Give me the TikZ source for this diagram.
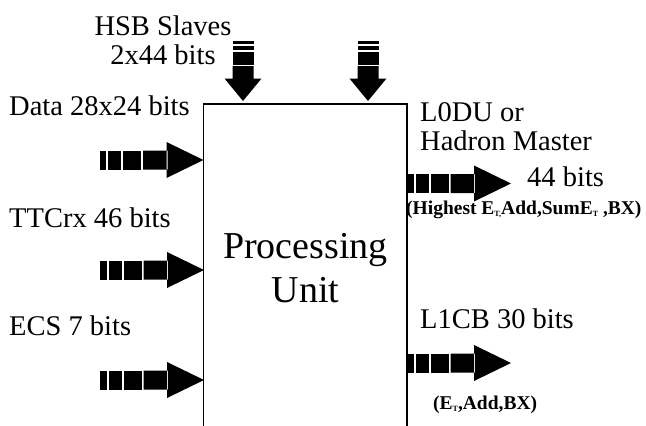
\documentclass[tikz,border=0pt]{standalone}
\usepackage{fontspec}
\setmainfont{Liberation Serif}
\usetikzlibrary{positioning}

\newcommand{\lblfont}{\fontsize{28.5}{29}\selectfont}
\newcommand{\sub}[1]{\raisebox{-0.3ex}{\fontsize{8}{8}\selectfont #1}}

\begin{document}
\begin{tikzpicture}[
    x=1pt, y=-1pt,
    sig/.style={inner sep=0, font=\lblfont, anchor=base west},
    note/.style={inner sep=0, font=\bfseries\fontsize{19.5}{20}\selectfont, anchor=base west},
    unitline/.style={line width=1.3pt},
    % striped bus arrow pointing right, origin at its tail
    pics/busright/.style={code={
        \fill (0,-9.5) rectangle (6.5,9.5);
        \fill (8.5,-9.5) rectangle (21.5,9.5);
        \fill (23.5,-9.5) rectangle (41.5,9.5);
        \fill (43.5,-9.5) rectangle (68,9.5) (67,-18) -- (104,0) -- (67,18) -- cycle;
    }},
    % striped bus arrow pointing down, origin at its tail
    pics/busdown/.style={code={
        \fill (-10.5,0) rectangle (10.5,3);
        \fill (-10.5,4.5) rectangle (10.5,9);
        \fill (-10.5,10.5) rectangle (10.5,23.5);
        \fill (-10.5,25) rectangle (10.5,38) (-18.5,37.5) -- (0,60) -- (18.5,37.5) -- cycle;
    }}
]
    \useasboundingbox (0,0) rectangle (646,426);

    % the unit, open at the bottom (base = last line)
    \draw[unitline] (203.5,426) |- (407,104) -- (407,426);
    \node[inner sep=0, anchor=base, align=center,
          font=\fontsize{38}{44}\selectfont] (pu) at (305.5,302) {Processing\\Unit};

    % inputs
    \node[sig, anchor=base, align=center] (hsb) at (163,64) {HSB Slaves\\2x44 bits};
    \node[sig] (data) at (9,115) {Data 28x24 bits};
    \node[sig] (ttc) at (9,227) {TTCrx 46 bits};
    \node[sig] (ecs) at (9,335) {ECS 7 bits};

    \coordinate (hsba) at (243,41);
    \coordinate (hsbb) at (368,41);
    \coordinate (datain) at (99.5,160);
    \coordinate (ttcin) at (100,270);
    \coordinate (ecsin) at (100,380);
    \pic at (hsba) {busdown};
    \pic at (hsbb) {busdown};
    \pic at (datain) {busright};
    \pic at (ttcin) {busright};
    \pic at (ecsin) {busright};

    % outputs
    \node[sig, align=left] (l0du) at (420,150) {L0DU or\\Hadron Master};
    \coordinate (l0duout) at (407,183.5);
    \pic at (l0duout) {busright};
    \node[sig] (l0dubits) at (527,186) {44 bits};
    \node[note] (l0ducont) at (406,214) {(Highest E\sub{T,}Add,SumE\sub{T} ,BX)};

    \node[sig] (l1cb) at (420,328) {L1CB 30 bits};
    \coordinate (l1cbout) at (407,363);
    \pic at (l1cbout) {busright};
    \node[note] (l1cbcont) at (433,409) {(E\sub{T},Add,BX)};
\end{tikzpicture}
\end{document}
